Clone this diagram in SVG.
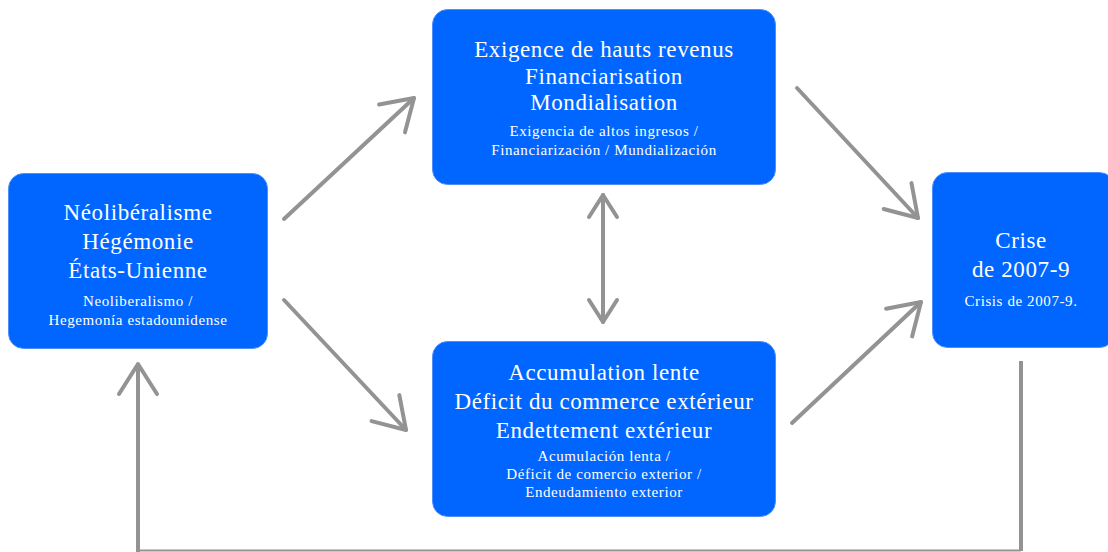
<svg xmlns="http://www.w3.org/2000/svg" width="1108" height="552" viewBox="0 0 1108 552">
<style>
.box{fill:#0066ff;stroke:#4d8ffb;stroke-width:1}
.t{font-family:"Liberation Serif","DejaVu Serif",serif;fill:#ffffff;text-anchor:middle}
.big{font-size:23px;letter-spacing:0.6px}
.small{font-size:15px;letter-spacing:0.6px}
.con{stroke:#939393;stroke-width:4;fill:none;stroke-linecap:round}
</style>
<defs>
<marker id="ah" markerUnits="userSpaceOnUse" markerWidth="80" markerHeight="80" refX="0" refY="0" viewBox="-40 -40 80 80" orient="auto" overflow="visible">
<path d="M -30 -19 L 0 0 L -30 19" fill="none" stroke="#939393" stroke-width="4" stroke-linecap="round" stroke-linejoin="round"/>
</marker>
<marker id="ahs" markerUnits="userSpaceOnUse" markerWidth="80" markerHeight="80" refX="0" refY="0" viewBox="-40 -40 80 80" orient="auto-start-reverse" overflow="visible">
<path d="M -22 -14 L 0 0 L -22 14" fill="none" stroke="#939393" stroke-width="4" stroke-linecap="round" stroke-linejoin="round"/>
</marker>
</defs>
<rect width="1108" height="552" fill="#ffffff"/>
<g id="connectors">
<line class="con" x1="284" y1="219" x2="414" y2="98" marker-end="url(#ah)"/>
<line class="con" x1="284" y1="300" x2="406" y2="430" marker-end="url(#ah)"/>
<line class="con" x1="797" y1="88" x2="918" y2="218" marker-end="url(#ah)"/>
<line class="con" x1="792" y1="423" x2="921" y2="302" marker-end="url(#ah)"/>
<line class="con" x1="603" y1="195" x2="603" y2="322" marker-start="url(#ahs)" marker-end="url(#ahs)"/>
<polyline class="con" style="stroke-linecap:butt" points="1021,361 1021,551"/>
<line x1="138" y1="550.5" x2="1021" y2="550.5" stroke="#939393" stroke-width="2"/>
<line class="con" style="stroke-linecap:butt" x1="138" y1="552" x2="138" y2="364" marker-end="url(#ah)"/>
</g>
<g id="node-neoliberalisme">
<rect class="box" x="8.5" y="173.5" width="259" height="175" rx="15"/>
<text class="t big" x="138" y="220">Néolibéralisme</text>
<text class="t big" x="138" y="249">Hégémonie</text>
<text class="t big" x="138" y="278">États-Unienne</text>
<text class="t small" x="138" y="306">Neoliberalismo /</text>
<text class="t small" x="138" y="325">Hegemonía estadounidense</text>
</g>
<g id="node-exigence">
<rect class="box" x="432.5" y="9.5" width="343" height="175" rx="15"/>
<text class="t big" x="604" y="57">Exigence de hauts revenus</text>
<text class="t big" x="604" y="84">Financiarisation</text>
<text class="t big" x="604" y="110">Mondialisation</text>
<text class="t small" x="604" y="136">Exigencia de altos ingresos /</text>
<text class="t small" x="604" y="155">Financiarización / Mundialización</text>
</g>
<g id="node-accumulation">
<rect class="box" x="432.5" y="341.5" width="343" height="175" rx="15"/>
<text class="t big" x="604" y="380">Accumulation lente</text>
<text class="t big" x="604" y="409">Déficit du commerce extérieur</text>
<text class="t big" x="604" y="438">Endettement extérieur</text>
<text class="t small" x="604" y="461">Acumulación lenta /</text>
<text class="t small" x="604" y="479">Déficit de comercio exterior  /</text>
<text class="t small" x="604" y="497">Endeudamiento exterior</text>
</g>
<g id="node-crise">
<rect class="box" x="932.5" y="172.5" width="182" height="175" rx="15"/>
<text class="t big" x="1021" y="248">Crise</text>
<text class="t big" x="1021" y="277">de 2007-9</text>
<text class="t small" x="1021" y="306">Crisis de 2007-9.</text>
</g>
</svg>
